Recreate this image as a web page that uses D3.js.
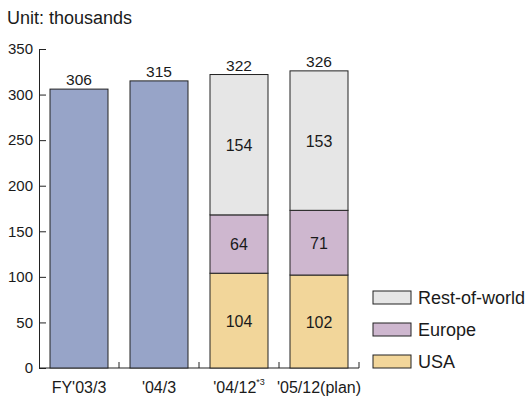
<!DOCTYPE html>
<html><head><meta charset="utf-8">
<script src="https://cdn.jsdelivr.net/npm/d3@7"></script>
<style>body{margin:0;background:#fff;}text{font-family:"Liberation Sans",Arial,sans-serif;fill:#1a1a1a;}</style>
</head><body>
<svg id="c" width="529" height="398"></svg>
<script>
const categories = ["FY'03/3", "'04/3", "'04/12", "'05/12(plan)"];
const superscripts = ["", "", "*3", ""];
const totals = [306, 315, 322, 326];
const usa = [null, null, 104, 102];
const europe = [null, null, 64, 71];
const restOfWorld = [null, null, 154, 153];
const yTicks = [0, 50, 100, 150, 200, 250, 300, 350];
const seriesNames = ["Rest-of-world", "Europe", "USA"];

const svg = d3.select("#c");
const x = d3.scaleBand().domain(categories).range([39, 359]).paddingInner(0.275).paddingOuter(0.1375);
const y = d3.scaleLinear().domain([0, 350]).range([368, 49]);
const colors = {total: "#97a4c8", USA: "#f2d69a", Europe: "#ceb7cf", "Rest-of-world": "#e6e6e6"};
const FONT = "Liberation Sans, Arial, sans-serif";

svg.append("text").attr("x", 7).attr("y", 24).attr("font-size", 18).text("Unit: thousands");

// y axis
const ya = svg.append("g").attr("transform", "translate(39,0)")
  .call(d3.axisLeft(y).tickValues(yTicks).tickSizeInner(-7).tickSizeOuter(0).tickPadding(6));
ya.select(".domain").attr("stroke", "#222");
ya.selectAll(".tick line").attr("stroke", "#222");
ya.selectAll(".tick text").attr("font-size", 15).attr("font-family", FONT).attr("fill", "#1a1a1a");

// x axis baseline & separators
svg.append("line").attr("x1", 39).attr("x2", 359).attr("y1", y(0)).attr("y2", y(0)).attr("stroke", "#222");
const seps = categories.map((c, i) => x(c) + x.bandwidth() + x.step() * x.paddingInner() / 2);
svg.selectAll(".sep").data(seps).join("line").attr("x1", d => d).attr("x2", d => d)
  .attr("y1", y(0)).attr("y2", y(0) - 6).attr("stroke", "#222");

// bars
const stack = [];
categories.forEach((c, i) => {
  if (usa[i] == null) {
    stack.push({c, key: "total", y0: 0, y1: totals[i], v: null});
  } else {
    let base = 0;
    [["USA", usa[i]], ["Europe", europe[i]], ["Rest-of-world", restOfWorld[i]]].forEach(([k, v]) => {
      stack.push({c, key: k, y0: base, y1: base + v, v});
      base += v;
    });
  }
});
svg.selectAll(".bar").data(stack).join("rect")
  .attr("x", d => x(d.c)).attr("width", x.bandwidth())
  .attr("y", d => y(d.y1)).attr("height", d => y(d.y0) - y(d.y1))
  .attr("fill", d => colors[d.key]).attr("stroke", "#222").attr("stroke-width", 1);

svg.selectAll(".seg").data(stack.filter(d => d.v != null)).join("text")
  .attr("x", d => x(d.c) + x.bandwidth() / 2).attr("y", d => y((d.y0 + d.y1) / 2) + 6)
  .attr("text-anchor", "middle").attr("font-size", 16).text(d => d.v);

svg.selectAll(".tot").data(categories).join("text")
  .attr("x", d => x(d) + x.bandwidth() / 2).attr("y", (d, i) => y(totals[i]) - 4)
  .attr("text-anchor", "middle").attr("font-size", 15.5).text((d, i) => totals[i]);

// x labels
const xl = svg.selectAll(".xl").data(categories).join("text")
  .attr("x", d => x(d) + x.bandwidth() / 2).attr("y", 393)
  .attr("text-anchor", "middle").attr("font-size", 16);
xl.append("tspan").text(d => d);
xl.filter((d, i) => superscripts[i]).append("tspan").attr("font-size", 9).attr("dy", -8)
  .text((d) => superscripts[categories.indexOf(d)]);

// legend
const lg = svg.selectAll(".lg").data(seriesNames).join("g")
  .attr("transform", (d, i) => `translate(373,${291 + i * 32})`);
lg.append("rect").attr("width", 38).attr("height", 13).attr("fill", d => colors[d]).attr("stroke", "#222");
lg.append("text").attr("x", 45).attr("y", 13).attr("font-size", 18).text(d => d);
</script>
</body></html>
